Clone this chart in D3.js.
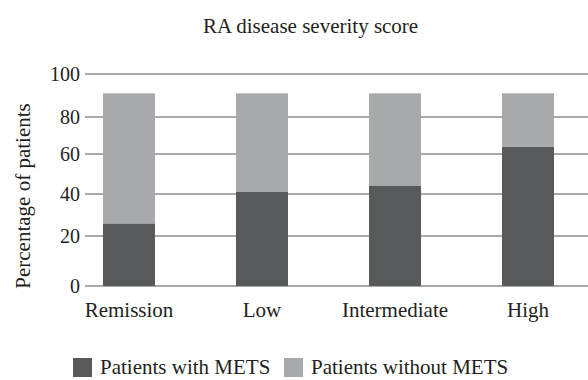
<!DOCTYPE html>
<html>
<head>
<meta charset="utf-8">
<script src="https://cdn.jsdelivr.net/npm/d3@7"></script>
<style>
	body { margin: 0; background: #fff; }
	text { font-family: "Liberation Serif", "Times New Roman", serif; fill: #231f20; }
</style>
</head>
<body>
<div id="chart-area"></div>
<script>

// chart data
let categories = ["Remission", "Low", "Intermediate", "High"];
let withMets = [26, 41, 44, 64];
let withoutMets = [65, 50, 47, 27];
let yTicks = [0, 20, 40, 60, 80, 100];
let seriesNames = ["Patients with METS", "Patients without METS"];
let seriesColors = ["#58595b", "#a7a9ac"];

let width = 588, height = 380;

let svg = d3.select("#chart-area").append("svg")
	.attr("width", width)
	.attr("height", height);

// scales - the original axis is not evenly spaced, so the y scale is piecewise
let xScale = d3.scalePoint().domain(categories).range([129, 528]);
let yScale = d3.scaleLinear().domain(yTicks).range([286, 236, 194, 154, 117, 74]);
let barWidth = 52;

// gridlines
svg.selectAll(".grid")
	.data(yTicks)
	.enter().append("line")
	.attr("class", "grid")
	.attr("x1", 85)
	.attr("x2", width)
	.attr("y1", d => yScale(d))
	.attr("y2", d => yScale(d))
	.attr("stroke", "#8c8c8c")
	.attr("stroke-width", 1.5);

// tick labels
svg.selectAll(".ytick")
	.data(yTicks)
	.enter().append("text")
	.attr("class", "ytick")
	.attr("x", 80)
	.attr("y", d => yScale(d))
	.attr("dy", "0.36em")
	.attr("text-anchor", "end")
	.style("font-size", "20px")
	.text(d => d);

// stacked bars
let stacked = categories.map((c, i) => ({cat: c, a: withMets[i], b: withoutMets[i]}));

svg.selectAll(".bar-with")
	.data(stacked)
	.enter().append("rect")
	.attr("class", "bar-with")
	.attr("x", d => xScale(d.cat) - barWidth / 2)
	.attr("width", barWidth)
	.attr("y", d => yScale(d.a))
	.attr("height", d => yScale(0) - yScale(d.a))
	.attr("fill", seriesColors[0]);

svg.selectAll(".bar-without")
	.data(stacked)
	.enter().append("rect")
	.attr("class", "bar-without")
	.attr("x", d => xScale(d.cat) - barWidth / 2)
	.attr("width", barWidth)
	.attr("y", d => yScale(d.a + d.b))
	.attr("height", d => yScale(d.a) - yScale(d.a + d.b))
	.attr("fill", seriesColors[1]);

// category labels
svg.selectAll(".xlabel")
	.data(categories)
	.enter().append("text")
	.attr("class", "xlabel")
	.attr("x", d => xScale(d))
	.attr("y", 317)
	.attr("text-anchor", "middle")
	.style("font-size", "21px")
	.text(d => d);

// title
svg.append("text")
	.attr("x", 203)
	.attr("y", 32.5)
	.style("font-size", "21px")
	.text("RA disease severity score");

// y axis title
svg.append("text")
	.attr("transform", "translate(29.5,196) rotate(-90)")
	.attr("text-anchor", "middle")
	.style("font-size", "21px")
	.text("Percentage of patients");

// legend
let legendX = [73, 284];
let legend = svg.selectAll(".legend")
	.data(seriesNames)
	.enter().append("g")
	.attr("class", "legend")
	.attr("transform", (d, i) => "translate(" + legendX[i] + ",358)");

legend.append("rect")
	.attr("width", 19)
	.attr("height", 19)
	.attr("fill", (d, i) => seriesColors[i]);

legend.append("text")
	.attr("x", 27)
	.attr("y", 16)
	.style("font-size", "21px")
	.text(d => d);

</script>
</body>
</html>
